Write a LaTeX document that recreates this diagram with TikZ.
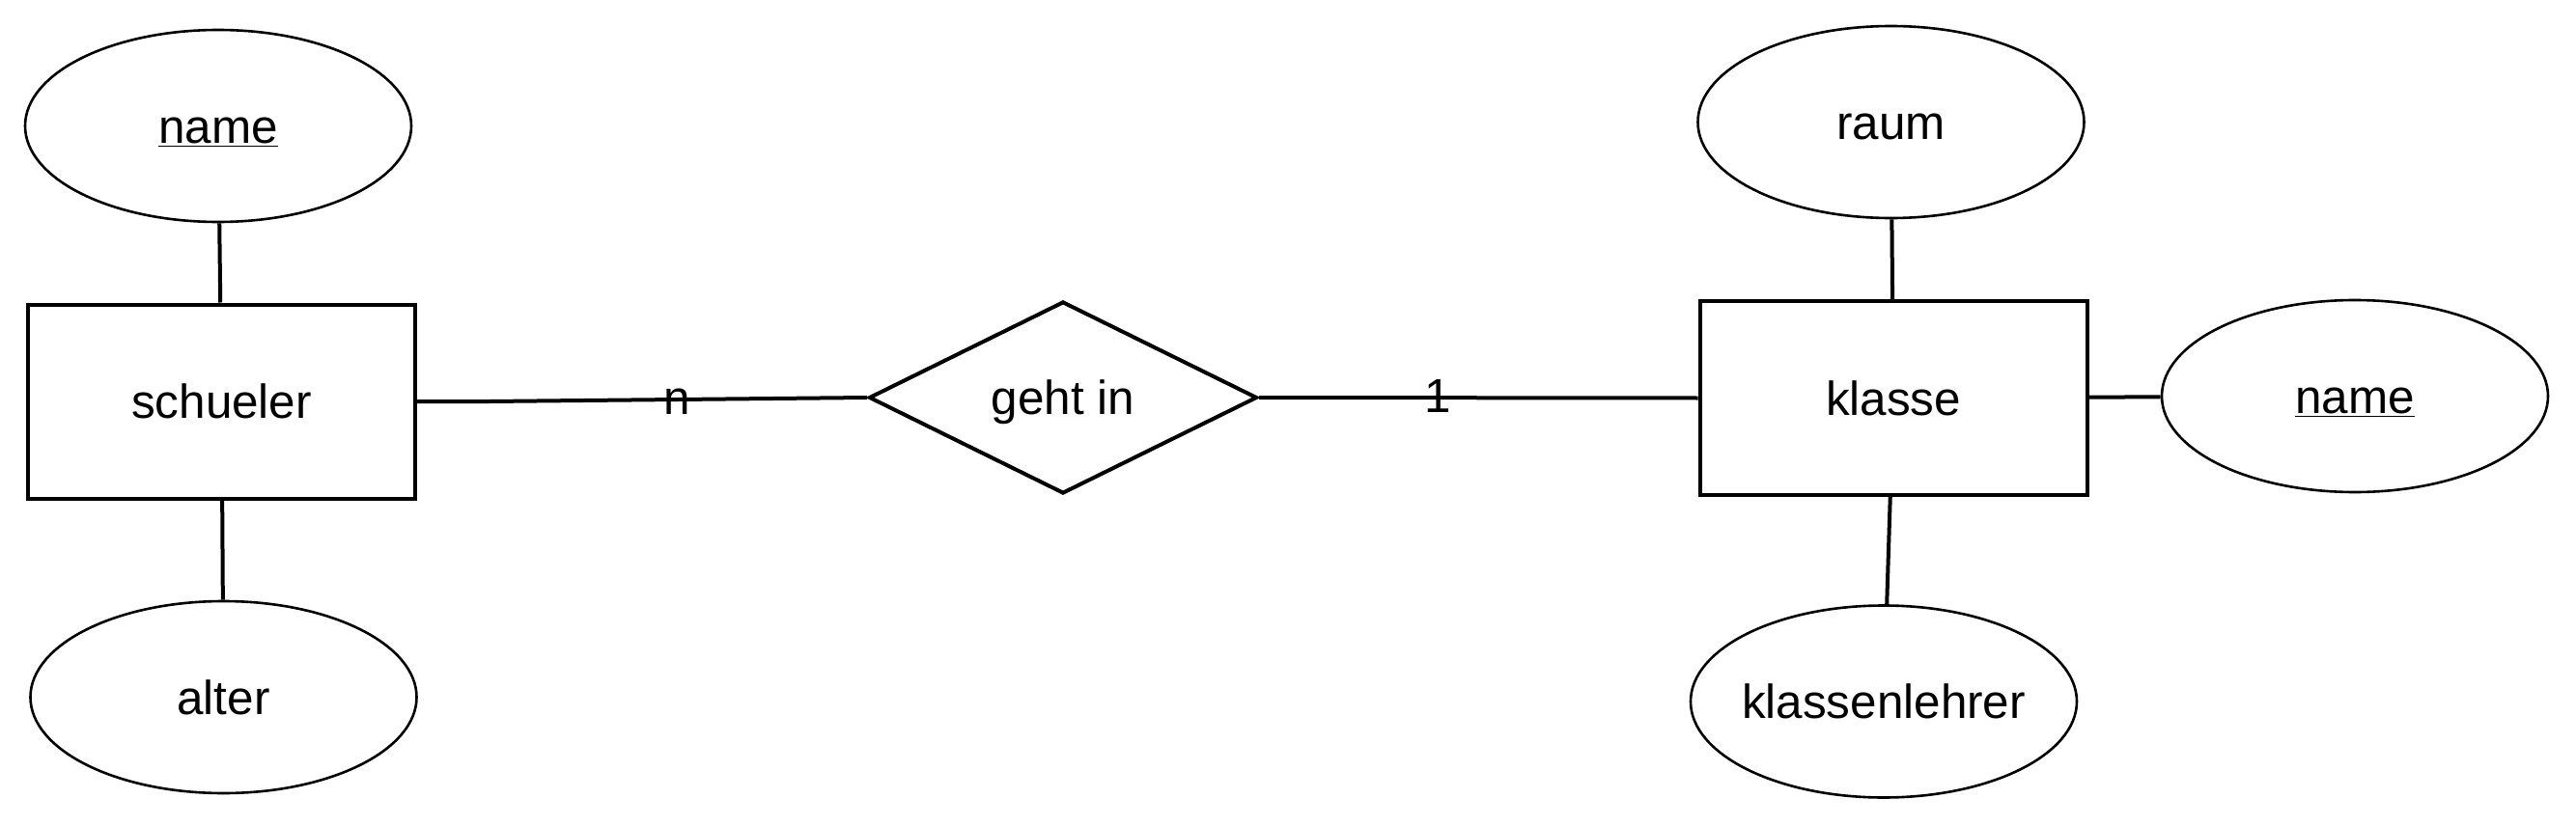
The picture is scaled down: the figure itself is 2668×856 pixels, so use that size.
\documentclass[tikz,border=0pt]{standalone}
\usepackage{fontspec}
\setmainfont{Liberation Sans}
\usetikzlibrary{shapes.geometric}

\tikzset{
  er text/.style={text height=17.8pt, text depth=0pt},
  entity/.style={draw, line width=2pt, rectangle, minimum width=200.5pt, minimum height=100.5pt, inner sep=0pt, er text},
  attribute/.style={draw, line width=1.3pt, ellipse, minimum width=200pt, minimum height=99.5pt, inner ysep=0pt, inner xsep=-4pt, er text},
  relation/.style={draw, line width=2pt, diamond, minimum width=201pt, minimum height=99.5pt, inner sep=0pt, er text},
  conn/.style={line width=2pt},
  card/.style={inner sep=0pt}
}

\begin{document}
\begin{tikzpicture}[x=0.5pt, y=-0.5pt, font=\fontsize{24.7}{30}\selectfont]
	\useasboundingbox (0,0) rectangle (2668,856);

	% Entitaeten und Beziehung
	\node[entity] (schueler) at (229.5,416) {schueler};
	\node[relation] (gehtin) at (1101,412) {geht in};
	\node[entity] (klasse) at (1961,412.5) {klasse};

	% Attribute
	\foreach \id/\x/\y/\txt in {
	    nameS/226/130.5/\underline{name},
	    alter/231.5/722.5/alter,
	    raum/1958.5/126.5/raum,
	    nameK/2439/410.5/\underline{name},
	    lehrer/1951/727/klassenlehrer
	} {
	    \node[attribute] (\id) at (\x,\y) {\txt};
	}

	% Attribute verbinden
	\foreach \a/\b in {nameS/schueler, alter/schueler, raum/klasse, nameK/klasse, lehrer/klasse} {
	    \draw[conn] (\a) -- (\b);
	}

	% Beziehung verbinden
	\draw[conn] (schueler.east) -- ++(75,0) -- (gehtin.west);
	\draw[conn] (gehtin.east) -- (klasse.west);

	% Kardinalitaeten
	\node[card] (cardN) at (701,416) {n};
	\node[card] (cardOne) at (1489,411) {1};
\end{tikzpicture}
\end{document}
